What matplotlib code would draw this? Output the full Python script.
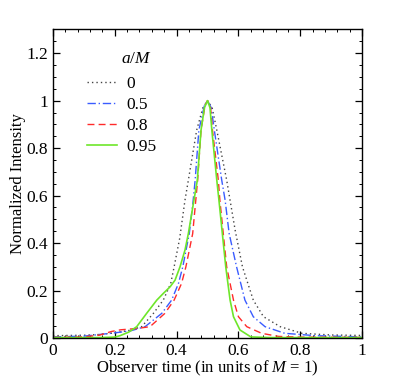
import matplotlib
matplotlib.use("Agg")
import matplotlib.pyplot as plt
from matplotlib.ticker import MultipleLocator, FuncFormatter

plt.rcParams["font.family"] = ["Liberation Serif", "DejaVu Serif"]
plt.rcParams["mathtext.fontset"] = "custom"
plt.rcParams["mathtext.rm"] = "Liberation Serif"
plt.rcParams["mathtext.it"] = "Liberation Serif:italic"

# a/M = 0
t_a0 = [0, 0.1, 0.15, 0.2, 0.25, 0.287, 0.325, 0.357, 0.381, 0.392, 0.41, 0.427,
        0.438, 0.465, 0.485, 0.5, 0.515, 0.53, 0.562, 0.573, 0.59, 0.613, 0.648,
        0.681, 0.735, 0.805, 0.9, 1.0]
I_a0 = [0.01, 0.012, 0.015, 0.022, 0.033, 0.048, 0.104, 0.16, 0.23, 0.30, 0.42, 0.58,
        0.665, 0.876, 0.97, 1.0, 0.97, 0.876, 0.665, 0.58, 0.45, 0.30, 0.16,
        0.09, 0.048, 0.02, 0.013, 0.011]

# a/M = 0.5
t_a05 = [0, 0.1, 0.15, 0.2, 0.25, 0.298, 0.352, 0.384, 0.406, 0.42, 0.441, 0.452,
         0.46, 0.472, 0.49, 0.5, 0.512, 0.522, 0.546, 0.557, 0.57, 0.594, 0.621,
         0.648, 0.686, 0.75, 0.85, 1.0]
I_a05 = [0.005, 0.008, 0.015, 0.022, 0.03, 0.048, 0.104, 0.16, 0.23, 0.30, 0.44, 0.56,
         0.665, 0.876, 0.98, 1.0, 0.97, 0.876, 0.665, 0.58, 0.44, 0.30, 0.16,
         0.09, 0.048, 0.02, 0.01, 0.005]

# a/M = 0.8
t_a08 = [0, 0.1, 0.15, 0.19, 0.22, 0.27, 0.314, 0.362, 0.392, 0.416, 0.43, 0.452,
         0.462, 0.468, 0.479, 0.492, 0.5, 0.51, 0.516, 0.535, 0.54, 0.551, 0.562,
         0.584, 0.6, 0.627, 0.675, 0.73, 0.8, 1.0]
I_a08 = [0.003, 0.005, 0.012, 0.028, 0.035, 0.04, 0.048, 0.104, 0.16, 0.23, 0.30, 0.44,
         0.58, 0.665, 0.876, 0.98, 1.0, 0.97, 0.876, 0.665, 0.58, 0.44, 0.30,
         0.16, 0.09, 0.048, 0.02, 0.007, 0.004, 0.003]

# a/M = 0.95
t_a095 = [0, 0.15, 0.2, 0.217, 0.245, 0.271, 0.303, 0.336, 0.357, 0.379, 0.395, 0.411,
          0.427, 0.438, 0.456, 0.467, 0.479, 0.49, 0.5, 0.508, 0.514, 0.53, 0.537,
          0.548, 0.559, 0.573, 0.584, 0.605, 0.64, 0.7, 1.0]
I_a095 = [0.002, 0.002, 0.004, 0.01, 0.025, 0.048, 0.104, 0.16, 0.188, 0.216, 0.244, 0.30,
          0.37, 0.44, 0.58, 0.665, 0.876, 0.97, 1.0, 0.97, 0.876, 0.665, 0.58,
          0.44, 0.30, 0.16, 0.09, 0.034, 0.005, 0.002, 0.002]

spin_labels = ["0", "0.5", "0.8", "0.95"]


def fmt(v, _):
    s = f"{v:.1f}"
    return s[:-2] if s.endswith(".0") else s


fig = plt.figure(figsize=(4.01, 3.82), dpi=100)
ax = fig.add_axes([0.132, 0.115, 0.771, 0.808])

ax.plot(t_a0, I_a0, color="#444444", ls=(0, (1, 2.2)), lw=1.0, label=spin_labels[0])
ax.plot(t_a05, I_a05, color="#3a5cff", ls=(0, (6, 2, 1, 2)), lw=1.0, label=spin_labels[1])
ax.plot(t_a08, I_a08, color="#ff2a2a", ls=(0, (5, 3)), lw=1.0, label=spin_labels[2])
ax.plot(t_a095, I_a095, color="#6ee62a", ls="-", lw=1.2, label=spin_labels[3])

ax.set_xlim(0, 1)
ax.set_ylim(0, 1.3)
ax.xaxis.set_major_locator(MultipleLocator(0.2))
ax.xaxis.set_minor_locator(MultipleLocator(0.04))
ax.yaxis.set_major_locator(MultipleLocator(0.2))
ax.yaxis.set_minor_locator(MultipleLocator(0.05))
ax.xaxis.set_major_formatter(FuncFormatter(fmt))
ax.yaxis.set_major_formatter(FuncFormatter(fmt))
ax.tick_params(which="both", direction="in", top=True, right=True, labelsize=12.5)
ax.tick_params(which="major", length=5, width=0.9)
ax.tick_params(which="minor", length=2.5, width=0.7)
for sp in ax.spines.values():
    sp.set_linewidth(1.0)

ax.set_xlabel("Observer time (in units of $M$ = 1)", fontsize=12, labelpad=0)
ax.set_ylabel("Normalized Intensity", fontsize=12, labelpad=0.5)

ax.text(0.27, 0.905, "$a/M$", transform=ax.transAxes, fontsize=12.5,
        ha="center", va="center")
ax.legend(loc="upper left", bbox_to_anchor=(0.06, 0.90),
          frameon=False, fontsize=12.5,
          handlelength=1.7, handletextpad=0.55, labelspacing=0.27)

fig.savefig("out.png", dpi=100)
